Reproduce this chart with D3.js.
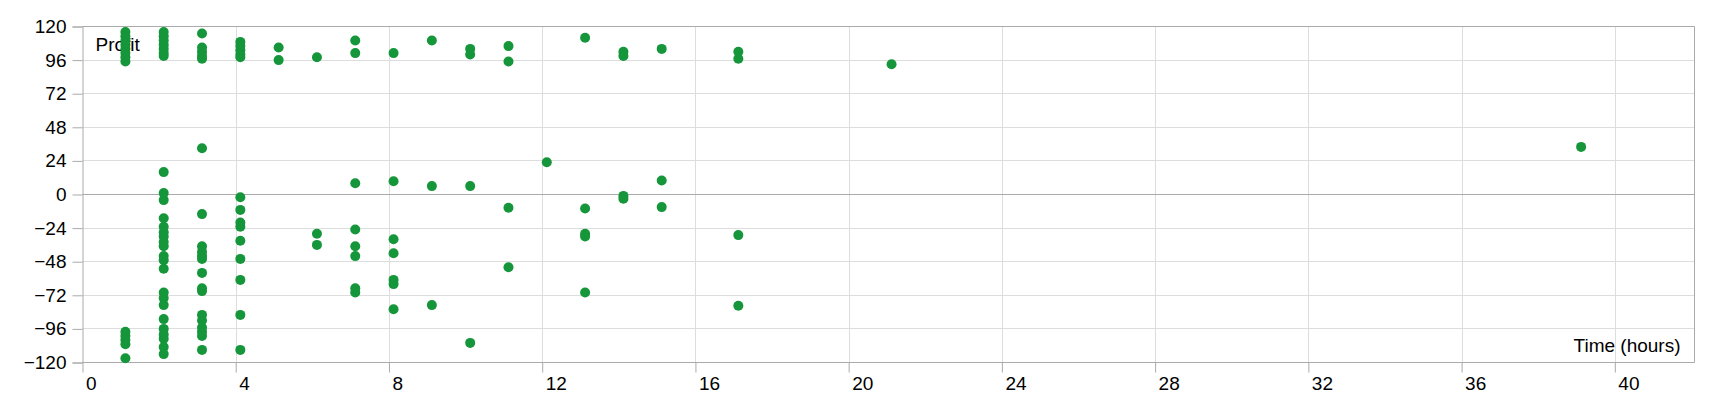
<!DOCTYPE html>
<html>
<head>
<meta charset="utf-8">
<script src="https://cdn.jsdelivr.net/npm/d3@7"></script>
<style>
  html, body { margin: 0; padding: 0; background: #fff; }
  svg { display: block; font-family: "Liberation Sans", Arial, sans-serif; }
</style>
</head>
<body>
<svg id="chart" width="1720" height="400"></svg>
<script>
// ---- data ----
const timeHours = [1.12, 2.12, 3.12, 4.12, 5.12, 6.12, 7.12, 8.12, 9.12, 10.12,
                   11.12, 12.12, 13.12, 14.12, 15.12, 17.12, 21.12, 39.12];
const profitByTime = [
  [116, 113, 110, 107, 104, 101, 98, 95, -98, -101, -104, -107, -117],
  [116, 113, 110, 107, 104, 101, 99, 16, 1, -4, -17, -23, -27, -30, -34, -37, -44, -47, -53,
   -70, -74, -79, -89, -96, -100, -103, -109, -114],
  [115, 105, 102, 99, 97, 33, -14, -37, -41, -44, -46, -56, -67, -69, -86, -90, -95, -98, -101, -111],
  [109, 106, 103, 100, 98, -2, -11, -20, -23, -33, -46, -61, -86, -111],
  [105, 96],
  [98, -28, -36],
  [110, 101, 8, -25, -37, -44, -67, -70],
  [101, 9.5, -32, -42, -61, -64, -82],
  [110, 6, -79],
  [104, 100, 6, -106],
  [106, 95, -9.5, -52],
  [23],
  [112, -10, -28, -30, -70],
  [102, 99, -1, -3],
  [104, 10, -9],
  [102, 97, -29, -79.5],
  [93],
  [34]
];
const xTicks = [0, 4, 8, 12, 16, 20, 24, 28, 32, 36, 40];
const yTicks = [-120, -96, -72, -48, -24, 0, 24, 48, 72, 96, 120];
const xLabel = "Time (hours)";
const yLabel = "Profit";

const points = [];
timeHours.forEach((t, i) => profitByTime[i].forEach(p => points.push({ t, p })));

// ---- layout ----
const svg = d3.select("#chart");
const pLeft = 82.5, pRight = 1694.5, pTop = 26.5, pBottom = 362.5;
const x = d3.scaleLinear().domain([0, 42.08]).range([pLeft, pRight]);
const y = d3.scaleLinear().domain([-120, 120]).range([pBottom, pTop]);

const gridColor = "#dddddd";
const axisColor = "#aaaaaa";

// vertical grid
svg.append("g").selectAll("line").data(xTicks.filter(d => d > 0)).join("line")
  .attr("x1", d => Math.round(x(d)) + 0.5).attr("x2", d => Math.round(x(d)) + 0.5)
  .attr("y1", pTop).attr("y2", pBottom)
  .attr("stroke", gridColor).attr("stroke-width", 1);

// horizontal grid
svg.append("g").selectAll("line").data(yTicks).join("line")
  .attr("x1", pLeft).attr("x2", pRight)
  .attr("y1", d => Math.round(y(d) - 0.5) + 0.5).attr("y2", d => Math.round(y(d) - 0.5) + 0.5)
  .attr("stroke", d => (d === 0 || d === 120 || d === -120) ? axisColor : gridColor)
  .attr("stroke-width", 1);

// right border
svg.append("line").attr("x1", pRight).attr("x2", pRight).attr("y1", pTop).attr("y2", pBottom)
  .attr("stroke", axisColor);

// y axis
const yAxis = d3.axisLeft(y).tickValues(yTicks).tickSize(10).tickPadding(6);
const gy = svg.append("g").attr("transform", `translate(${pLeft},0)`).call(yAxis);
gy.select(".domain").attr("stroke", axisColor);
gy.selectAll(".tick line").attr("stroke", axisColor);
gy.selectAll(".tick text").attr("font-size", 19).attr("fill", "#000")
  .attr("font-family", "Liberation Sans, Arial, sans-serif");

// x axis
const xAxis = d3.axisBottom(x).tickValues(xTicks).tickSize(10).tickPadding(0);
const gx = svg.append("g").attr("transform", `translate(0,${pBottom})`).call(xAxis);
gx.select(".domain").remove();
gx.selectAll(".tick line").attr("stroke", axisColor);
gx.selectAll(".tick text").attr("font-size", 19).attr("fill", "#000")
  .attr("font-family", "Liberation Sans, Arial, sans-serif")
  .attr("text-anchor", "start").attr("x", 3).attr("y", 27.5).attr("dy", 0);

// axis titles (drawn beneath the points, as in the reference)
svg.append("text").attr("x", pLeft + 13).attr("y", 50.5)
  .attr("font-size", 19).attr("fill", "#000").text(yLabel);
svg.append("text").attr("x", pRight - 14).attr("y", 352)
  .attr("font-size", 19).attr("fill", "#000").attr("text-anchor", "end").text(xLabel);

// points
svg.append("g").selectAll("circle").data(points).join("circle")
  .attr("cx", d => x(d.t)).attr("cy", d => y(d.p)).attr("r", 5)
  .attr("fill", "#16963b");
</script>
</body>
</html>
